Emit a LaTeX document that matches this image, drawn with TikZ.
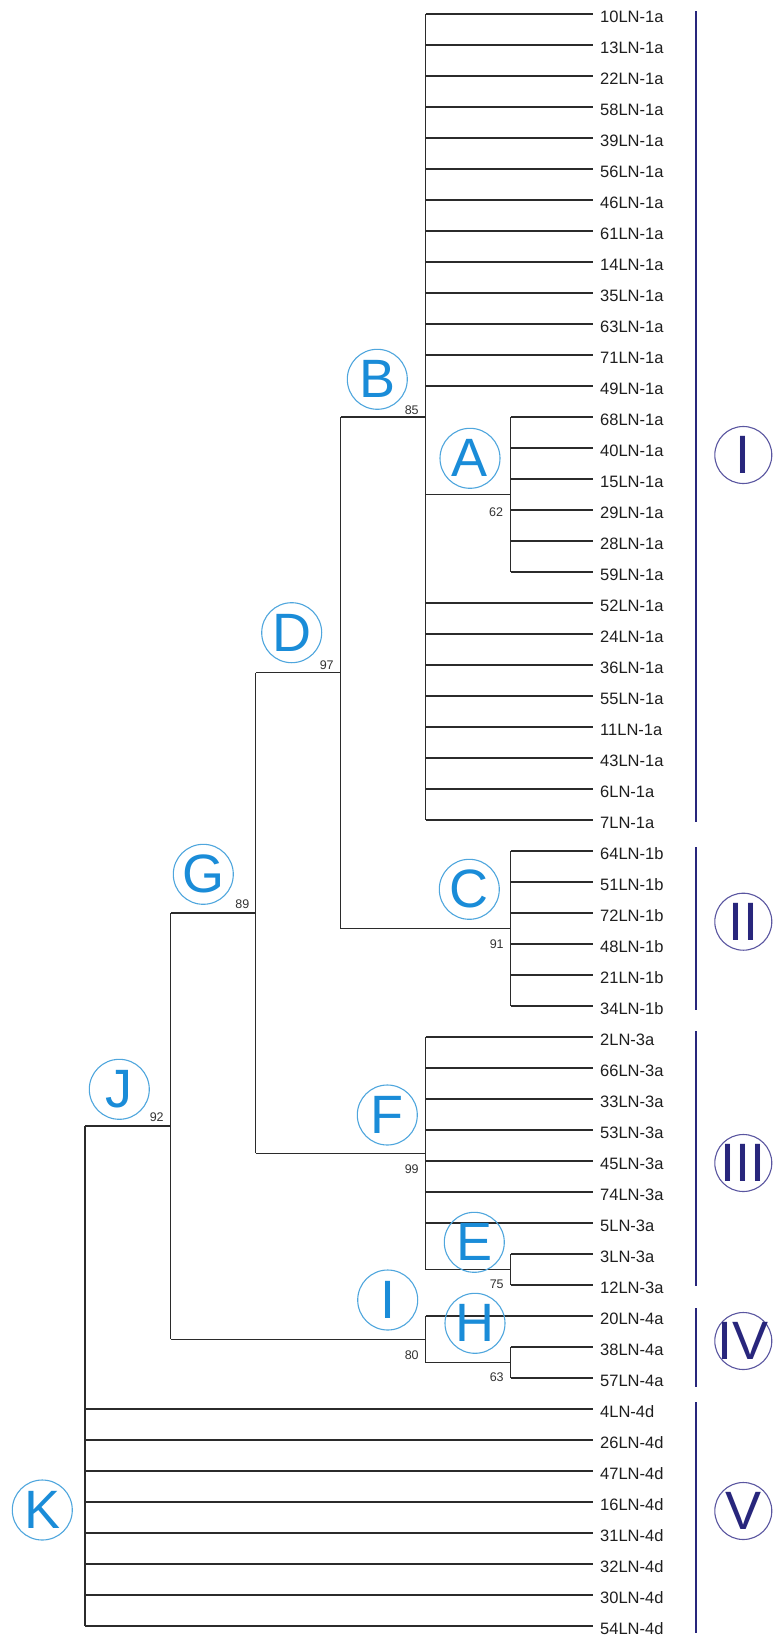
\documentclass[tikz,border=0pt]{standalone}
\usepackage{fontspec}
\setmainfont{Liberation Sans}
\definecolor{treecol}{HTML}{2B2B2B}
\definecolor{letblue}{HTML}{1A8CD8}
\definecolor{cirblue}{HTML}{4FA6DD}
\definecolor{navy}{HTML}{28267C}
\definecolor{navycirc}{HTML}{5A56A0}
\definecolor{numcol}{HTML}{333333}
\begin{document}
\begin{tikzpicture}[x=1pt,y=-1pt,
  br/.style={draw=treecol,line width=1.3pt},
  leaf/.style={anchor=west,inner sep=0pt,font=\fontsize{16.5}{18}\selectfont,text=black!88},
  boot/.style={inner sep=0pt,font=\fontsize{12.5}{14}\selectfont,text=numcol},
  clade/.style={circle,draw=cirblue,line width=1.1pt,minimum size=60pt,inner sep=0pt,text=letblue,font=\fontsize{54}{54}\selectfont},
  grp/.style={circle,draw=navycirc,line width=1.1pt,minimum size=57pt,inner sep=0pt,text=navy,font=\fontsize{54}{54}\selectfont},
  bar/.style={draw=navy,line width=2.8pt}]
\fill[white] (0,0) rectangle (772,1637);
\useasboundingbox (0,0) rectangle (772,1637);

% leaves
\foreach \nm [count=\i from 0] in {10LN-1a,13LN-1a,22LN-1a,58LN-1a,39LN-1a,56LN-1a,46LN-1a,61LN-1a,14LN-1a,35LN-1a,63LN-1a,71LN-1a,49LN-1a,68LN-1a,40LN-1a,15LN-1a,29LN-1a,28LN-1a,59LN-1a,52LN-1a,24LN-1a,36LN-1a,55LN-1a,11LN-1a,43LN-1a,6LN-1a,7LN-1a,64LN-1b,51LN-1b,72LN-1b,48LN-1b,21LN-1b,34LN-1b,2LN-3a,66LN-3a,33LN-3a,53LN-3a,45LN-3a,74LN-3a,5LN-3a,3LN-3a,12LN-3a,20LN-4a,38LN-4a,57LN-4a,4LN-4d,26LN-4d,47LN-4d,16LN-4d,31LN-4d,32LN-4d,30LN-4d,54LN-4d}{
  \coordinate (l\i) at (593,{14+31*\i});
  \node[leaf] (t\i) at (600,{16.5+31*\i}) {\nm};
}

% internal nodes
\coordinate (nA) at (510.5,494.5);
\coordinate (nB) at (425.5,417);
\coordinate (nC) at (510.5,928.5);
\coordinate (nD) at (340.5,672.75);
\coordinate (nE) at (510.5,1269.5);
\coordinate (nF) at (425.5,1153.25);
\coordinate (nG) at (255.5,913);
\coordinate (nH) at (510.5,1362.5);
\coordinate (nI) at (425.5,1339.25);
\coordinate (nJ) at (170.5,1126.1);
\coordinate (nK) at (85,1376);

% vertical spines
\draw[br] (nA |- l13) -- (nA |- l18);
\draw[br] (nB |- l0) -- (nB |- l26);
\draw[br] (nC |- l27) -- (nC |- l32);
\draw[br] (nD |- nB) -- (nD |- nC);
\draw[br] (nE |- l40) -- (nE |- l41);
\draw[br] (nF |- l33) -- (nF |- nE);
\draw[br] (nG |- nD) -- (nG |- nF);
\draw[br] (nH |- l43) -- (nH |- l44);
\draw[br] (nI |- l42) -- (nI |- nH);
\draw[br] (nJ |- nG) -- (nJ |- nI);
\draw[br] (nK |- nJ) -- (nK |- l52);

% horizontal branches
\foreach \i in {13,...,18} \draw[br] (nA |- l\i) -- (l\i);
\foreach \i in {0,...,12} \draw[br] (nB |- l\i) -- (l\i);
\foreach \i in {19,...,26} \draw[br] (nB |- l\i) -- (l\i);
\draw[br] (nB |- nA) -- (nA);
\foreach \i in {27,...,32} \draw[br] (nC |- l\i) -- (l\i);
\draw[br] (nD |- nB) -- (nB);
\draw[br] (nD |- nC) -- (nC);
\foreach \i in {40,41} \draw[br] (nE |- l\i) -- (l\i);
\foreach \i in {33,...,39} \draw[br] (nF |- l\i) -- (l\i);
\draw[br] (nF |- nE) -- (nE);
\draw[br] (nG |- nD) -- (nD);
\draw[br] (nG |- nF) -- (nF);
\draw[br] (nH |- l43) -- (l43);
\draw[br] (nH |- l44) -- (l44);
\draw[br] (nI |- l42) -- (l42);
\draw[br] (nI |- nH) -- (nH);
\draw[br] (nJ |- nG) -- (nG);
\draw[br] (nJ |- nI) -- (nI);
\draw[br] (nK |- nJ) -- (nJ);
\foreach \i in {45,...,51} \draw[br] (nK |- l\i) -- (l\i);
\draw[br] (nK |- l52) -- (l52);

% support values
\node[boot] (s85) at (411.7,410) {85};
\node[boot] (s62) at (496,511.7) {62};
\node[boot] (s97) at (326.7,665) {97};
\node[boot] (s91) at (496.7,944.3) {91};
\node[boot] (s89) at (242.3,904.3) {89};
\node[boot] (s99) at (411.7,1169.3) {99};
\node[boot] (s75) at (496.7,1284) {75};
\node[boot] (s80) at (411.7,1355) {80};
\node[boot] (s63) at (496.7,1376.7) {63};
\node[boot] (s92) at (156.7,1117.3) {92};

% clade letters
\node[clade] (cB) at (377.3,379.3) {\makebox[0pt]{B}};
\node[clade] (cA) at (470,458.3) {\makebox[0pt]{A}};
\node[clade] (cD) at (291.7,632.7) {\makebox[0pt]{D}};
\node[clade] (cC) at (469.3,889.3) {\makebox[0pt]{C}};
\node[clade] (cG) at (203.3,874.3) {\makebox[0pt]{G}};
\node[clade] (cF) at (387.3,1115) {\makebox[0pt]{F}};
\node[clade] (cE) at (474.3,1242.3) {\makebox[0pt]{E}};
\node[clade] (cI) at (387.7,1300) {\makebox[0pt]{I}};
\node[clade] (cH) at (475,1323.3) {\makebox[0pt]{H}};
\node[clade] (cJ) at (119.3,1089.3) {\makebox[0pt]{J}};
\node[clade] (cK) at (42.3,1510) {\makebox[0pt]{K}};

% group bars
\coordinate (b1s) at (696,11.5);  \coordinate (b1e) at (696,822);
\coordinate (b2s) at (696,847);   \coordinate (b2e) at (696,1010);
\coordinate (b3s) at (696,1031);  \coordinate (b3e) at (696,1286);
\coordinate (b4s) at (696,1308);  \coordinate (b4e) at (696,1387);
\coordinate (b5s) at (696,1402);  \coordinate (b5e) at (696,1633);
\draw[bar] (b1s) -- (b1e);
\draw[bar] (b2s) -- (b2e);
\draw[bar] (b3s) -- (b3e);
\draw[bar] (b4s) -- (b4e);
\draw[bar] (b5s) -- (b5e);

% group numerals
\node[grp] (gI) at (743.3,455) {\makebox[0pt]{I}};
\node[grp] (gII) at (743.3,921.7) {\makebox[0pt]{II}};
\node[grp] (gIII) at (743.3,1163) {\makebox[0pt]{III}};
\node[grp] (gIV) at (743.3,1341) {\makebox[0pt]{IV}};
\node[grp] (gV) at (743.3,1511) {\makebox[0pt]{V}};
\end{tikzpicture}
\end{document}
